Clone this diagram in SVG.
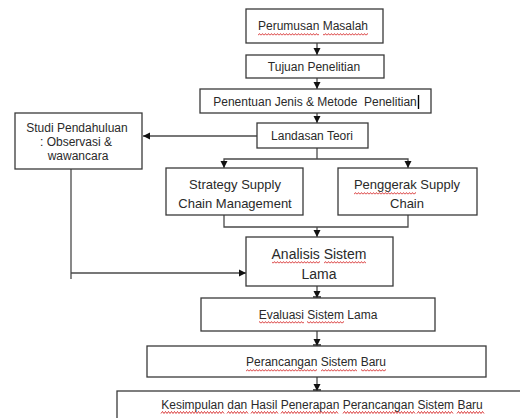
<svg xmlns="http://www.w3.org/2000/svg" width="520" height="418" viewBox="0 0 520 418">
<defs>
<marker id="ah" markerUnits="userSpaceOnUse" markerWidth="8" markerHeight="8" refX="7" refY="4" orient="auto">
<path d="M0,0.5 L7,4 L0,7.5 Z" fill="#111"/>
</marker>
<pattern id="wavy" patternUnits="userSpaceOnUse" x="0" y="0" width="3" height="3">
<path d="M0,2.4 L1.5,0.6 L3,2.4" fill="none" stroke="#d01010" stroke-width="0.8"/>
</pattern>
</defs>
<style>
.box{fill:#fff;stroke:#3a3a3a;stroke-width:1.3}
.t{font-family:"Liberation Sans",Arial,sans-serif;font-size:12px;fill:#2a2a2a;text-anchor:middle}
.m{font-size:13px}
.big{font-size:14px}
.w{fill:url(#wavy)}
.wp{fill:none;stroke:#d01010;stroke-width:0.8}
.c{fill:none;stroke:#4a4a4a;stroke-width:1.3}
.a{fill:none;stroke:#4a4a4a;stroke-width:1.3;marker-end:url(#ah)}
.tk{stroke:#222;stroke-width:1.5}
</style>
<rect width="520" height="418" fill="#fff"/>
<g id="connectors">
<line class="a" x1="317" y1="43" x2="317" y2="55"/>
<line class="a" x1="317" y1="78" x2="317" y2="89"/>
<line class="a" x1="317" y1="113" x2="317" y2="123"/>
<line class="a" x1="257" y1="136" x2="143" y2="136"/>
<polyline class="c" points="317,148 317,159"/>
<polyline class="a" points="317,159 224,159 224,168"/>
<polyline class="a" points="317,159 408,159 408,168"/>
<polyline class="c" points="224,215 224,227 408,227 408,215"/>
<line class="a" x1="317" y1="227" x2="317" y2="237"/>
<line class="c" x1="71" y1="169" x2="71" y2="279"/>
<line class="a" x1="71" y1="273" x2="246" y2="273"/>
<line class="a" x1="317" y1="286" x2="317" y2="298"/>
<line class="tk" x1="313" y1="297" x2="321" y2="297"/>
<line class="a" x1="317" y1="331" x2="317" y2="346"/>
<line class="tk" x1="313" y1="345" x2="321" y2="345"/>
<line class="a" x1="317" y1="377" x2="317" y2="391"/>
<line class="tk" x1="313" y1="390" x2="321" y2="390"/>
</g>
<g id="perumusan">
<rect class="box" x="246" y="9" width="137" height="34"/>
<text class="t" x="313" y="30">Perumusan Masalah</text>
<rect class="w" x="258" y="33" width="61" height="3"/>
<rect class="w" x="323" y="33" width="45" height="3"/>
</g>
<g id="tujuan">
<rect class="box" x="246" y="55" width="138" height="23"/>
<text class="t" x="314" y="71">Tujuan Penelitian</text>
</g>
<g id="penentuan">
<rect class="box" x="200" y="89" width="231" height="24"/>
<text class="t" x="315" y="106">Penentuan Jenis &amp; Metode &#160;Penelitian</text>
<line x1="418.5" y1="95" x2="418.5" y2="109" stroke="#000" stroke-width="1.4"/>
</g>
<g id="landasan">
<rect class="box" x="257" y="123" width="111" height="25"/>
<text class="t" x="312" y="140">Landasan Teori</text>
</g>
<g id="studi">
<rect class="box" x="15" y="113" width="127" height="56"/>
<text class="t" x="77" y="132">Studi Pendahuluan</text>
<text class="t" x="76" y="146">: Observasi &amp;</text>
<text class="t" x="78" y="160">wawancara</text>
</g>
<g id="strategy">
<rect class="box" x="166" y="168" width="137" height="47"/>
<text class="t m" x="235" y="189">Strategy Supply</text>
<text class="t m" x="235" y="208">Chain Management</text>
</g>
<g id="penggerak">
<rect class="box" x="338" y="168" width="139" height="47"/>
<text class="t m" x="407" y="189">Penggerak Supply</text>
<rect class="w" x="354" y="192" width="62" height="3"/>
<text class="t m" x="407" y="208">Chain</text>
</g>
<g id="analisis">
<rect class="box" x="246" y="237" width="147" height="49"/>
<text class="t big" x="319" y="259">Analisis Sistem</text>
<rect class="w" x="272" y="261" width="48" height="3"/>
<rect class="w" x="324" y="261" width="42" height="3"/>
<text class="t big" x="319" y="279">Lama</text>
</g>
<g id="evaluasi">
<rect class="box" x="201" y="298" width="234" height="33"/>
<text class="t" x="318" y="319">Evaluasi Sistem Lama</text>
<rect class="w" x="259" y="321" width="45" height="3"/>
<rect class="w" x="307" y="321" width="37" height="3"/>
</g>
<g id="perancangan">
<rect class="box" x="147" y="346" width="339" height="31"/>
<text class="t" x="316" y="366">Perancangan Sistem Baru</text>
<rect class="w" x="246" y="369" width="71" height="3"/>
<rect class="w" x="321" y="369" width="36" height="3"/>
<rect class="w" x="361" y="369" width="25" height="3"/>
</g>
<g id="kesimpulan">
<rect class="box" x="117" y="391" width="420" height="40"/>
<text class="t" x="322" y="409">Kesimpulan dan Hasil Penerapan Perancangan Sistem Baru</text>
<path class="wp" d="M161,413.5 l1.5-2 1.5 2 l1.5-2 1.5 2 l1.5-2 1.5 2 l1.5-2 1.5 2 l1.5-2 1.5 2 l1.5-2 1.5 2 l1.5-2 1.5 2 l1.5-2 1.5 2 l1.5-2 1.5 2 l1.5-2 1.5 2 l1.5-2 1.5 2 l1.5-2 1.5 2 l1.5-2 1.5 2 l1.5-2 1.5 2 l1.5-2 1.5 2 l1.5-2 1.5 2 l1.5-2 1.5 2 l1.5-2 1.5 2 l1.5-2 1.5 2 l1.5-2 1.5 2 l1.5-2 1.5 2
M227,413.5 l1.5-2 1.5 2 l1.5-2 1.5 2 l1.5-2 1.5 2 l1.5-2 1.5 2 l1.5-2 1.5 2 l1.5-2 1.5 2 l1.5-2 1.5 2
M251,413.5 l1.5-2 1.5 2 l1.5-2 1.5 2 l1.5-2 1.5 2 l1.5-2 1.5 2 l1.5-2 1.5 2 l1.5-2 1.5 2 l1.5-2 1.5 2 l1.5-2 1.5 2 l1.5-2 1.5 2
M281,413.5 l1.5-2 1.5 2 l1.5-2 1.5 2 l1.5-2 1.5 2 l1.5-2 1.5 2 l1.5-2 1.5 2 l1.5-2 1.5 2 l1.5-2 1.5 2 l1.5-2 1.5 2 l1.5-2 1.5 2 l1.5-2 1.5 2 l1.5-2 1.5 2 l1.5-2 1.5 2 l1.5-2 1.5 2 l1.5-2 1.5 2 l1.5-2 1.5 2 l1.5-2 1.5 2 l1.5-2 1.5 2 l1.5-2 1.5 2 l1.5-2 1.5 2
M343,413.5 l1.5-2 1.5 2 l1.5-2 1.5 2 l1.5-2 1.5 2 l1.5-2 1.5 2 l1.5-2 1.5 2 l1.5-2 1.5 2 l1.5-2 1.5 2 l1.5-2 1.5 2 l1.5-2 1.5 2 l1.5-2 1.5 2 l1.5-2 1.5 2 l1.5-2 1.5 2 l1.5-2 1.5 2 l1.5-2 1.5 2 l1.5-2 1.5 2 l1.5-2 1.5 2 l1.5-2 1.5 2 l1.5-2 1.5 2 l1.5-2 1.5 2 l1.5-2 1.5 2 l1.5-2 1.5 2 l1.5-2 1.5 2 l1.5-2 1.5 2 l1.5-2 1.5 2
M417,413.5 l1.5-2 1.5 2 l1.5-2 1.5 2 l1.5-2 1.5 2 l1.5-2 1.5 2 l1.5-2 1.5 2 l1.5-2 1.5 2 l1.5-2 1.5 2 l1.5-2 1.5 2 l1.5-2 1.5 2 l1.5-2 1.5 2 l1.5-2 1.5 2 l1.5-2 1.5 2
M457,413.5 l1.5-2 1.5 2 l1.5-2 1.5 2 l1.5-2 1.5 2 l1.5-2 1.5 2 l1.5-2 1.5 2 l1.5-2 1.5 2 l1.5-2 1.5 2 l1.5-2 1.5 2 l1.5-2 1.5 2"/>
</g>
</svg>
